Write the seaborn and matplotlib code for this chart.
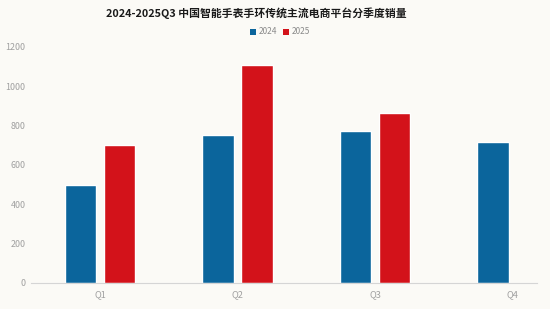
import matplotlib
matplotlib.use("Agg")
import matplotlib.pyplot as plt
import seaborn as sns
import pandas as pd
from matplotlib.patches import Patch

quarters = ["Q1", "Q2", "Q3", "Q4"]
sales_2024 = [497, 752, 773, 715]
sales_2025 = [702, 1108, 861, None]
years = ["2024", "2025"]
yticks = [0, 200, 400, 600, 800, 1000, 1200]
title = "2024-2025Q3 中国智能手表手环传统主流电商平台分季度销量"

rows = []
for q, a, b in zip(quarters, sales_2024, sales_2025):
    rows.append({"quarter": q, "year": "2024", "sales": a})
    if b is not None:
        rows.append({"quarter": q, "year": "2025", "sales": b})
df = pd.DataFrame(rows)

sns.set_theme(style="white")
plt.rcParams["font.family"] = ["Noto Sans CJK SC", "DejaVu Sans"]

bg = "#FBFAF6"
fig = plt.figure(figsize=(5.5, 3.09), dpi=100, facecolor=bg)
ax = fig.add_axes([31 / 550, 1 - 283 / 309, (537 - 31) / 550, 236.3 / 309])
ax.set_facecolor(bg)

palette = {"2024": "#0B659C", "2025": "#D3121A"}
sns.barplot(data=df, x="quarter", y="sales", hue="year", order=quarters,
            hue_order=years, palette=palette, width=0.567, gap=0.2,
            saturation=1, ax=ax, legend=False)

ax.set_xlim(-0.502, 3.178)
ax.set_ylim(0, 1200)
ax.set_yticks(yticks)
ax.set_yticklabels([str(v) for v in yticks])
ax.set_xlabel("")
ax.set_ylabel("")
for s in ["top", "right", "left"]:
    ax.spines[s].set_visible(False)
ax.spines["bottom"].set_color("#D5D5D5")
ax.spines["bottom"].set_linewidth(0.8)
ax.tick_params(axis="y", length=0, pad=4, labelsize=6.4, labelcolor="#A0A0A0")
ax.tick_params(axis="x", length=0, pad=5, labelsize=6.6, labelcolor="#A0A0A0")
ax.grid(False)

fig.text(256 / 550, 1 - 13 / 309, title, ha="center", va="center",
         fontsize=7.8, fontweight="bold", color="#1A1A1A")

handles = [Patch(facecolor=palette[y], edgecolor="none") for y in years]
fig.legend(handles, years, loc="center", bbox_to_anchor=(280 / 550, 1 - 32 / 309),
           ncol=2, frameon=False, fontsize=6.0, handlelength=0.7, handleheight=0.7,
           handletextpad=0.3, columnspacing=0.8, labelcolor="#8A8A8A")

fig.savefig("out.png", dpi=100, facecolor=bg)
